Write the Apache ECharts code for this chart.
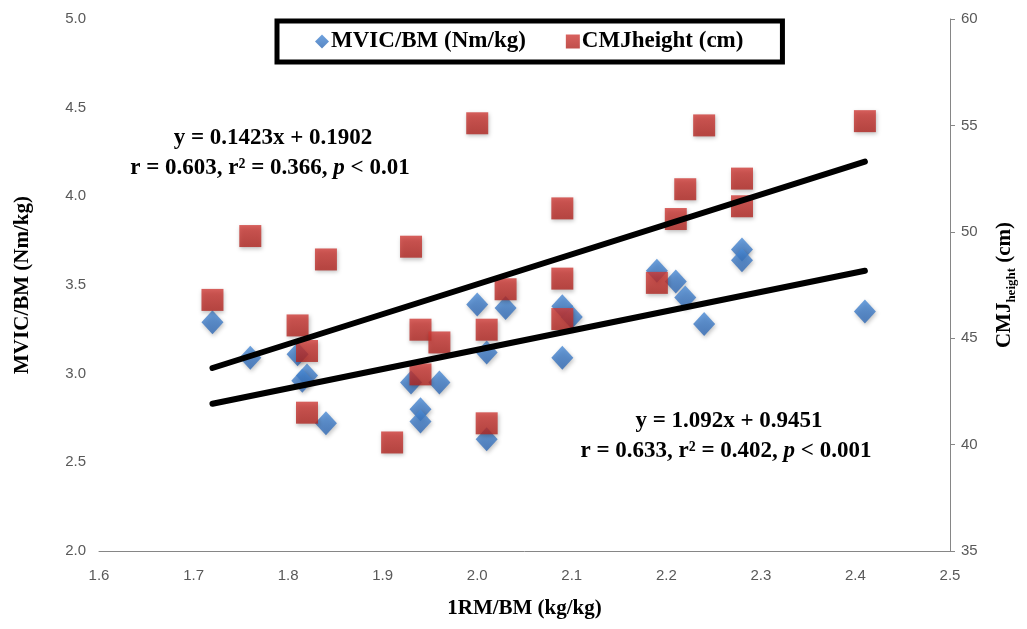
<!DOCTYPE html>
<html>
<head>
<meta charset="utf-8">
<script src="https://cdn.jsdelivr.net/npm/echarts@6/dist/echarts.min.js"></script>
<style>
  html, body { margin: 0; padding: 0; background: #fff; }
  #chart { width: 1027px; height: 629px; }
</style>
</head>
<body>
<div id="chart"></div>
<script>
// 1RM/BM vs MVIC/BM (left axis)
var mvicX = [1.72, 1.76, 1.81, 1.82, 1.815, 1.84, 1.93, 1.96, 1.94, 1.94, 2.00, 2.01, 2.01, 2.03, 2.09, 2.10, 2.09, 2.19, 2.21, 2.22, 2.24, 2.28, 2.28, 2.41];
var mvicY = [3.29, 3.09, 3.11, 2.99, 2.96, 2.72, 2.95, 2.95, 2.80, 2.73, 3.39, 3.12, 2.63, 3.37, 3.38, 3.32, 3.09, 3.58, 3.52, 3.43, 3.28, 3.70, 3.64, 3.35];
// 1RM/BM vs CMJ height (right axis)
var cmjX = [1.72, 1.76, 1.81, 1.82, 1.82, 1.84, 1.91, 1.93, 1.94, 1.96, 1.94, 2.00, 2.01, 2.01, 2.03, 2.09, 2.09, 2.09, 2.19, 2.21, 2.22, 2.24, 2.28, 2.28, 2.41];
var cmjY = [46.8, 49.8, 45.6, 44.4, 41.5, 48.7, 40.1, 49.3, 45.4, 44.8, 43.3, 55.1, 45.4, 41.0, 47.3, 47.8, 45.9, 51.1, 47.6, 50.6, 52.0, 55.0, 52.5, 51.2, 55.2];
// trend line ends
var trendX = [1.72, 2.41];
var mvicTrend = [2.83, 3.58];
var cmjTrend = [43.6, 53.3];

var legendNames = ['MVIC/BM (Nm/kg)', 'CMJheight (cm)'];

function pairs(xs, ys) {
  return xs.map(function (x, i) { return [x, ys[i]]; });
}

var serif = '"Liberation Serif", "DejaVu Serif", serif';
var tickStyle = { color: '#595959', fontSize: 15, fontFamily: '"Liberation Sans", Arial, sans-serif' };

var chart = echarts.init(document.getElementById('chart'));

var option = {
  animation: false,
  backgroundColor: '#fff',
  grid: { left: 99, right: 77, top: 19, bottom: 78 },
  legend: {
    data: [
      { name: legendNames[0], icon: 'diamond' },
      { name: legendNames[1], icon: 'rect' }
    ],
    left: 277,
    top: 21,
    itemWidth: 14,
    itemHeight: 14,
    itemGap: 40,
    padding: [9, 39, 9, 38],
    borderColor: '#000',
    borderWidth: 5,
    backgroundColor: '#fff',
    textStyle: { fontFamily: serif, fontWeight: 'bold', fontSize: 23, color: '#000', padding: [0, 0, 0, -3] }
  },
  xAxis: {
    type: 'value',
    min: 1.6,
    max: 2.5,
    interval: 0.1,
    name: '1RM/BM (kg/kg)',
    nameLocation: 'middle',
    nameGap: 47,
    nameTextStyle: { fontFamily: serif, fontWeight: 'bold', fontSize: 21, color: '#000' },
    axisLine: { show: true, lineStyle: { color: '#868686', width: 1 } },
    axisTick: { show: false },
    splitLine: { show: false },
    axisLabel: Object.assign({ margin: 17, formatter: function (v) { return v.toFixed(1); } }, tickStyle)
  },
  yAxis: [
    {
      type: 'value',
      min: 2,
      max: 5,
      interval: 0.5,
      position: 'left',
      name: 'MVIC/BM (Nm/kg)',
      nameLocation: 'middle',
      nameRotate: 90,
      nameGap: 66,
      nameTextStyle: { fontFamily: serif, fontWeight: 'bold', fontSize: 21, color: '#000' },
      axisLine: { show: false },
      axisTick: { show: false },
      splitLine: { show: false },
      axisLabel: Object.assign({ margin: 13, formatter: function (v) { return v.toFixed(1); } }, tickStyle)
    },
    {
      type: 'value',
      min: 35,
      max: 60,
      interval: 5,
      position: 'right',
      name: '{a|CMJ}{b|height}{a| (cm)}',
      nameLocation: 'middle',
      nameRotate: 90,
      nameGap: 42,
      nameTextStyle: {
        color: '#000',
        rich: {
          a: { fontFamily: serif, fontWeight: 'bold', fontSize: 21, color: '#000', lineHeight: 26 },
          b: { fontFamily: serif, fontWeight: 'bold', fontSize: 13, color: '#000', lineHeight: 13, verticalAlign: 'bottom' }
        }
      },
      axisLine: { show: true, lineStyle: { color: '#868686', width: 1 } },
      axisTick: { show: true, inside: false, length: 5, lineStyle: { color: '#868686' } },
      splitLine: { show: false },
      axisLabel: Object.assign({ margin: 11 }, tickStyle)
    }
  ],
  series: [
    {
      name: legendNames[0],
      type: 'scatter',
      yAxisIndex: 0,
      symbol: 'diamond',
      symbolSize: [22, 24],
      z: 2,
      itemStyle: {
        color: {
          type: 'linear', x: 0, y: 0, x2: 0, y2: 1,
          colorStops: [{ offset: 0, color: '#4a8bd6' }, { offset: 1, color: '#2f68b4' }]
        },
        shadowBlur: 4,
        shadowOffsetX: 1,
        shadowOffsetY: 2,
        shadowColor: 'rgba(0,0,0,0.3)'
      },
      data: pairs(mvicX, mvicY)
    },
    {
      name: legendNames[1],
      type: 'scatter',
      yAxisIndex: 1,
      symbol: 'rect',
      symbolSize: 22,
      z: 3,
      itemStyle: {
        color: {
          type: 'linear', x: 0, y: 0, x2: 0, y2: 1,
          colorStops: [{ offset: 0, color: '#cf3a36' }, { offset: 1, color: '#b0241f' }]
        },
        shadowBlur: 4,
        shadowOffsetX: 1,
        shadowOffsetY: 2,
        shadowColor: 'rgba(0,0,0,0.3)'
      },
      data: pairs(cmjX, cmjY)
    },
    {
      name: 'cmjTrend',
      type: 'line',
      yAxisIndex: 1,
      symbol: 'none',
      z: 5,
      lineStyle: { color: '#000', width: 6, cap: 'round' },
      data: pairs(trendX, cmjTrend)
    },
    {
      name: 'mvicTrend',
      type: 'line',
      yAxisIndex: 0,
      symbol: 'none',
      z: 5,
      lineStyle: { color: '#000', width: 6, cap: 'round' },
      data: pairs(trendX, mvicTrend)
    }
  ],
  graphic: [
    {
      type: 'text', x: 273, y: 138, z: 10,
      style: {
        text: 'y = 0.1423x + 0.1902',
        font: 'bold 23px ' + serif, fill: '#000', align: 'center', verticalAlign: 'middle'
      }
    },
    {
      type: 'text', x: 270, y: 168, z: 10,
      style: {
        text: 'r = 0.603, r² = 0.366, {i|p} < 0.01',
        font: 'bold 23px ' + serif, fill: '#000', align: 'center', verticalAlign: 'middle',
        rich: { i: { fontFamily: serif, fontWeight: 'bold', fontStyle: 'italic', fontSize: 23, fill: '#000' } }
      }
    },
    {
      type: 'text', x: 729, y: 421, z: 10,
      style: {
        text: 'y = 1.092x + 0.9451',
        font: 'bold 23px ' + serif, fill: '#000', align: 'center', verticalAlign: 'middle'
      }
    },
    {
      type: 'text', x: 726, y: 451, z: 10,
      style: {
        text: 'r = 0.633, r² = 0.402, {i|p} < 0.001',
        font: 'bold 23px ' + serif, fill: '#000', align: 'center', verticalAlign: 'middle',
        rich: { i: { fontFamily: serif, fontWeight: 'bold', fontStyle: 'italic', fontSize: 23, fill: '#000' } }
      }
    }
  ]
};

chart.setOption(option);
</script>
</body>
</html>
